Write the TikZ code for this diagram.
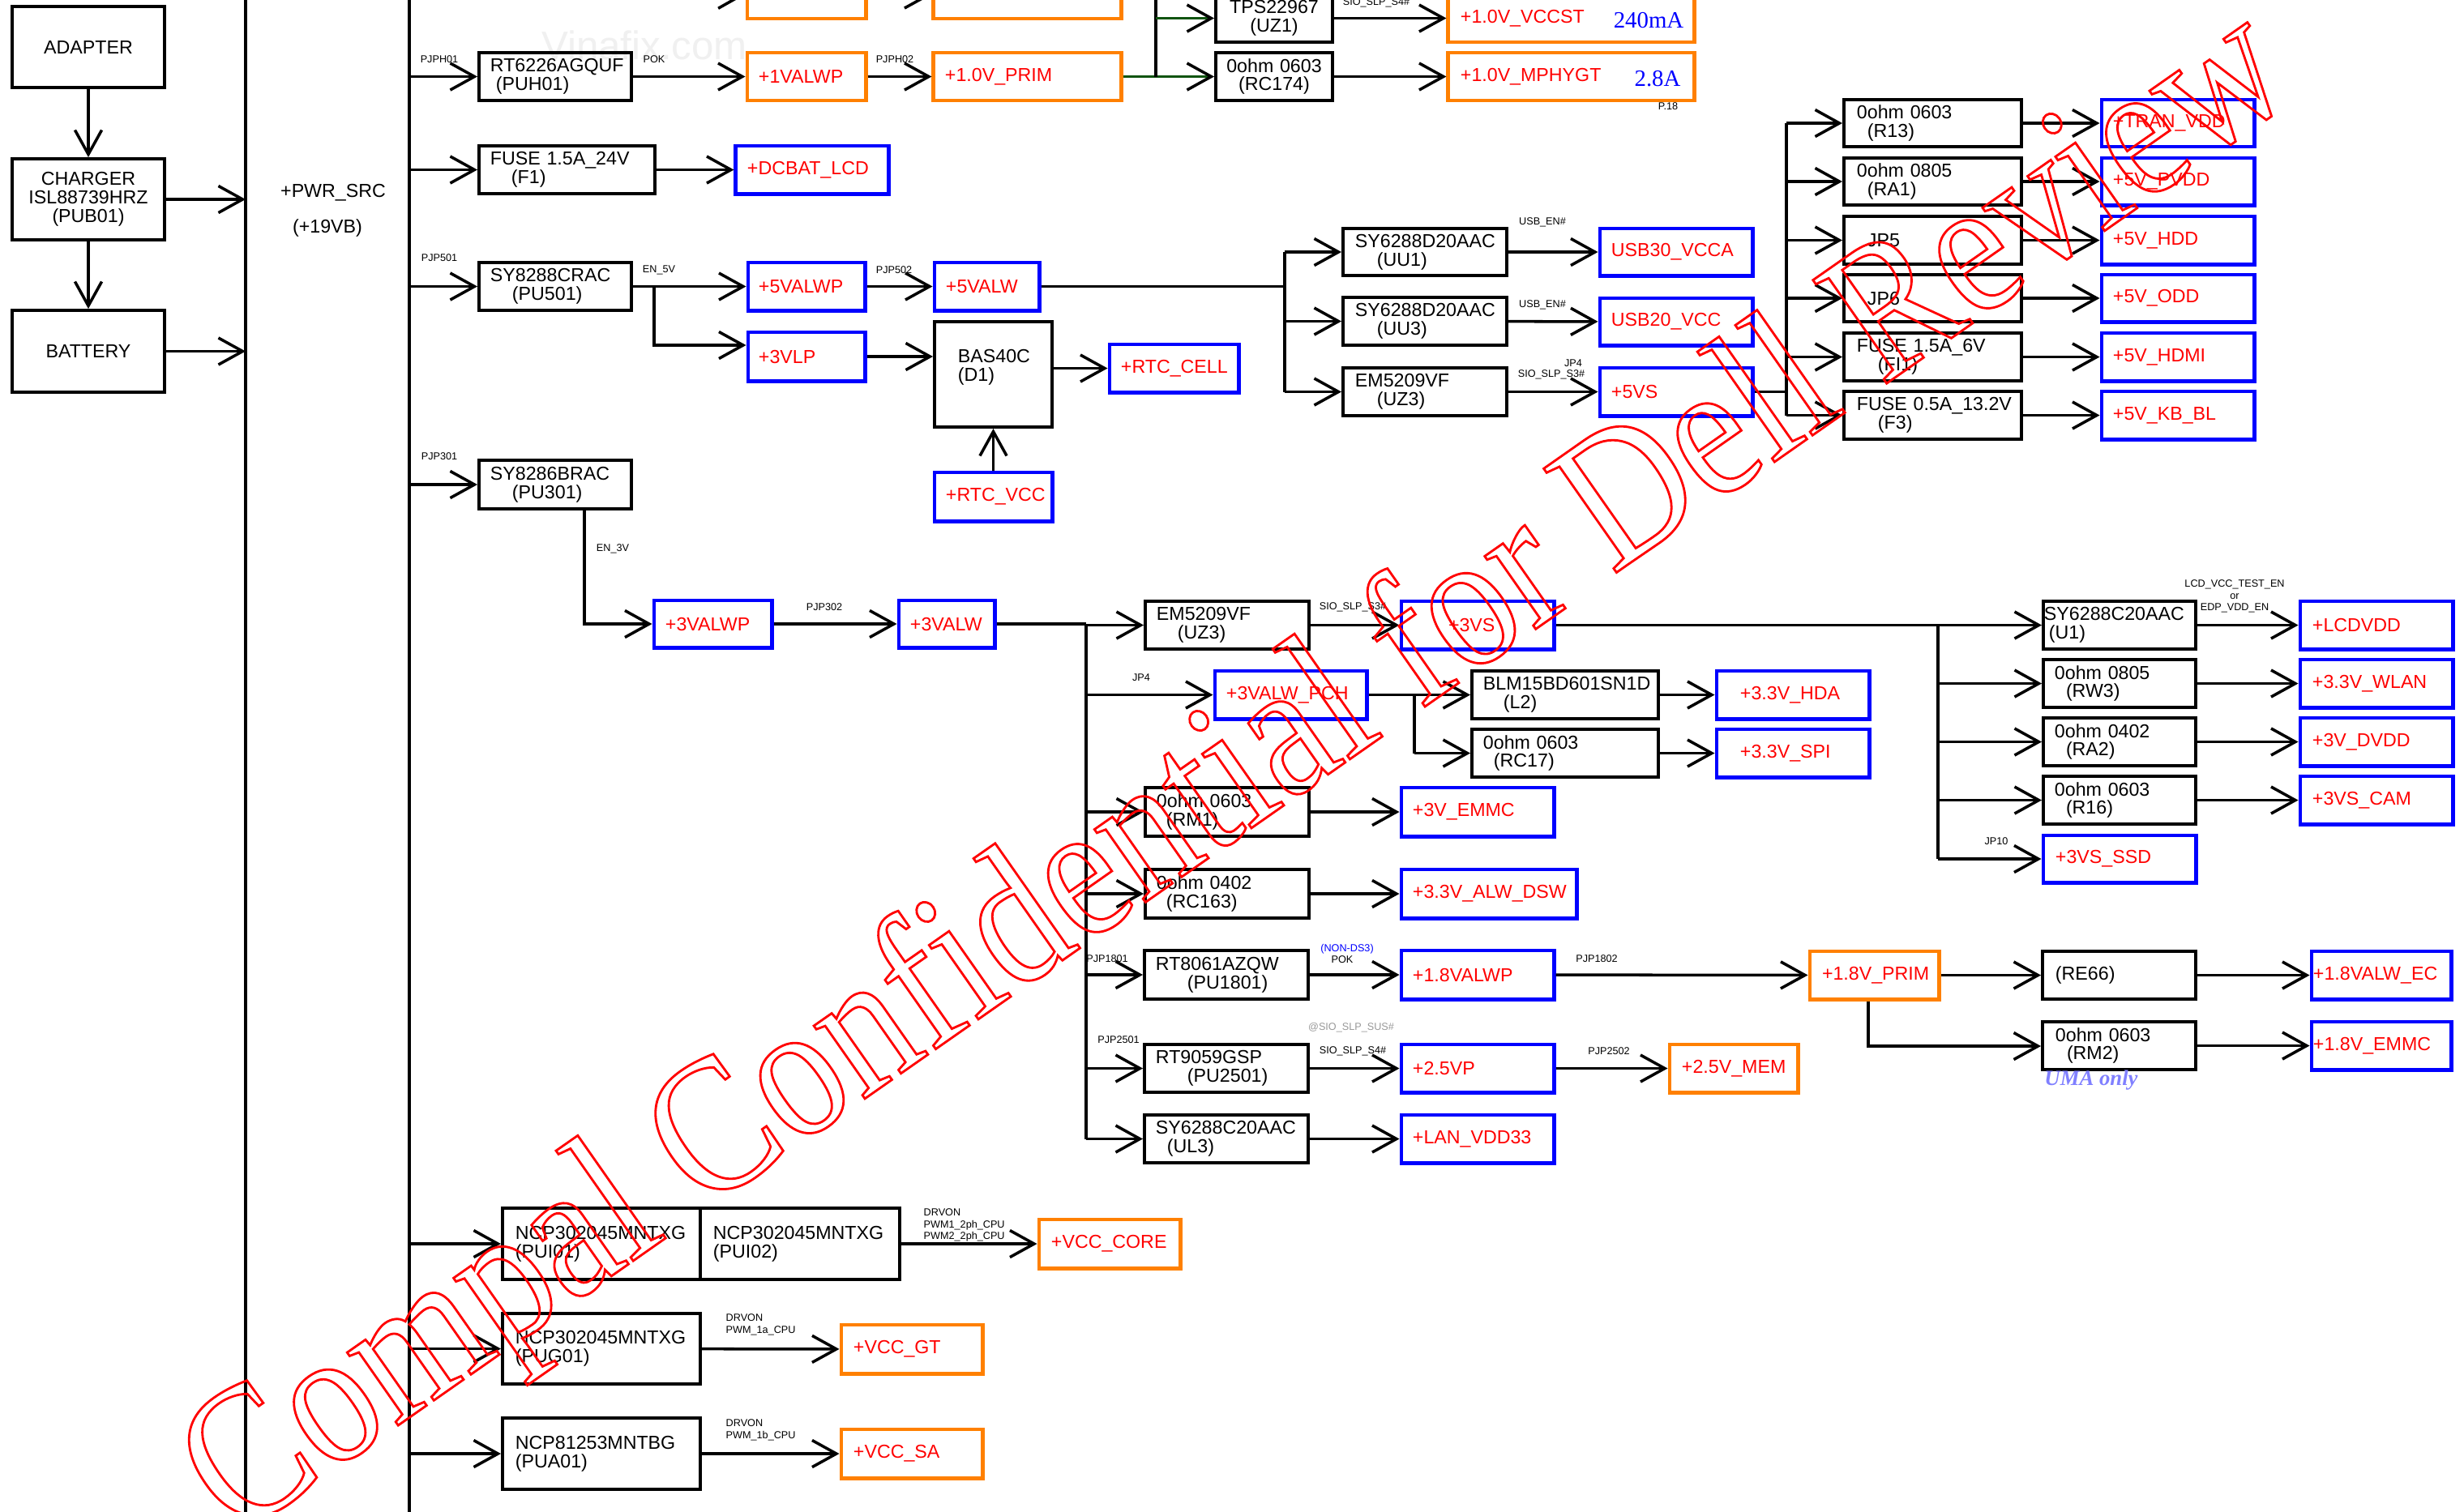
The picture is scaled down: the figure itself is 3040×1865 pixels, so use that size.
\documentclass[tikz,border=0pt]{standalone}
\usepackage{fontspec}
\setmainfont{Liberation Sans}
\newfontfamily\serifrm{Liberation Serif}
\newfontfamily\wmfont{Liberation Serif}[FakeStretch=0.86]
\usetikzlibrary{arrows.meta}
\definecolor{orng}{RGB}{255,128,0}
\definecolor{dgreen}{RGB}{16,84,16}
\definecolor{uma}{RGB}{128,128,255}
\newlength\pu \setlength\pu{0.2845276pt}
\newcommand\bfs{\fontsize{6.6}{6.5}\selectfont}
\newcommand\sfs{\fontsize{3.6}{4.1}\selectfont}
\newcommand\ind[1]{\hspace*{#1\pu}}
\newcommand\outl[1]{\special{pdf:literal direct 1 Tr 0.8 w}#1\special{pdf:literal direct 0 Tr}}
\newcommand\bx[8]{%
  \pgfmathsetlengthmacro\bw{(#4-#2)*\pu}%
  \pgfmathsetlengthmacro\bh{(#5-#3)*\pu}%
  \pgfmathsetlengthmacro\tw{(#4-#2-2*#7)*\pu}%
  \node[#6, minimum width=\bw, minimum height=\bh, text width=\tw] (#1) at ({(#2+#4)/2},{(#3+#5)/2}) {#8};}
\begin{document}
\begin{tikzpicture}[x=0.01cm,y=-0.01cm,
  kbox/.style={draw=black,line width=1.1pt,inner sep=0pt,align=left,font=\bfs},
  kboxc/.style={kbox,align=center},
  bbox/.style={draw=blue,line width=1.4pt,inner sep=0pt,align=left,font=\bfs,text=red},
  obox/.style={bbox,draw=orng},
  conn/.style={line width=1pt,-{Straight Barb[length=8.5pt,width=9.4pt]}},
  gconn/.style={line width=1pt,draw=dgreen,-{Straight Barb[length=8.5pt,width=9.4pt,color=black]}},
  wire/.style={line width=1pt},
  lbl/.style={font=\sfs,inner sep=0pt},
]
\useasboundingbox (0,0) rectangle (3040,1865);
\clip (0,0) rectangle (3040,1865);
\fill[white] (0,0) rectangle (3040,1865);
\node[font=\fontsize{14}{14}\selectfont,text=black!6,inner sep=0pt] (vina) at (795,56) {Vinafix.com};

% ---- left part
\bx{adapter}{15}{8}{203}{108}{kboxc}{4}{ADAPTER}
\bx{charger}{15}{196}{203}{296}{kboxc}{4}{CHARGER\\ISL88739HRZ\\(PUB01)}
\bx{battery}{15}{383}{203}{484}{kboxc}{4}{BATTERY}
\coordinate (busLt) at (303,-20); \coordinate (busLb) at (303,1885);
\coordinate (busRt) at (505,-20); \coordinate (busRb) at (505,1885);
\draw[wire] (busLt) -- (busLb);
\draw[wire] (busRt) -- (busRb);
\node[font=\bfs,inner sep=0pt] (pwr) at (411,238) {+PWR\_SRC};
\node[font=\bfs,inner sep=0pt] (pwrv) at (404,281) {(+19VB)};
\draw[conn] (adapter) -- (charger);
\draw[conn] (charger) -- (battery);
\draw[conn] (charger.east) -- (charger.east -| busLt);
\draw[conn] (battery.east) -- (battery.east -| busLt);

% ---- top rows
\bx{puh01}{591}{65}{779}{124}{kbox}{14}{RT6226AGQUF\\\ind{7}(PUH01)}
\bx{f1}{591}{180}{808}{239}{kbox}{14}{FUSE~1.5A\_24V\\\ind{26}(F1)}
\bx{pu501}{591}{324}{779}{383}{kbox}{14}{SY8288CRAC\\\ind{27}(PU501)}
\bx{pu301}{591}{568}{779}{628}{kbox}{14}{SY8286BRAC\\\ind{27}(PU301)}
\bx{tb1}{922}{-36}{1068}{23}{obox}{14}{}
\bx{tb2}{1152}{-36}{1383}{23}{obox}{14}{}
\bx{v1valwp}{922}{65}{1068}{124}{obox}{14}{+1VALWP}
\bx{prim10}{1152}{65}{1383}{124}{obox}{14}{+1.0V\_PRIM}
\bx{uz1}{1500}{-7}{1644}{52}{kboxc}{4}{TPS22967\\(UZ1)}
\bx{rc174}{1500}{65}{1644}{124}{kboxc}{4}{0ohm~0603\\(RC174)}
\bx{vccst}{1787}{-7}{2090}{52}{obox}{15}{+1.0V\_VCCST}
\bx{mphygt}{1787}{65}{2090}{124}{obox}{15}{+1.0V\_MPHYGT}
\node[font=\serifrm\fontsize{8.2}{8.2}\selectfont,text=blue,inner sep=0pt] (ma240) at (2034,25) {240mA};
\node[font=\serifrm\fontsize{8.2}{8.2}\selectfont,text=blue,inner sep=0pt] (a28) at (2045,97) {2.8A};
\node[lbl] (p18) at (2058,131) {P.18};
\bx{dcbat}{908}{180}{1096}{239}{bbox}{14}{+DCBAT\_LCD}

\coordinate (tsrc) at (860,-6);
\draw[conn] (tsrc) -- (tb1.west);
\draw[conn] (tb1.east) -- (tb2.west);
\draw[conn] (puh01.west -| busRt) -- (puh01.west);
\draw[conn] (f1.west -| busRt) -- (f1.west);
\draw[conn] (pu501.west -| busRt) -- (pu501.west);
\draw[conn] (pu301.west -| busRt) -- (pu301.west);
\draw[conn] (puh01) -- (v1valwp);
\draw[conn] (v1valwp) -- (prim10);
\draw[conn] (f1) -- (dcbat);
\coordinate (jgt) at (1426,-20);
\draw[gconn] (prim10.east) -- (rc174.west);
\draw[wire] (jgt) -- (jgt |- prim10.east);
\draw[gconn] (jgt |- uz1.west) -- (uz1.west);
\draw[conn] (uz1) -- (vccst);
\draw[conn] (rc174) -- (mphygt);
\node[lbl] (lpjph01) at (542,73) {PJPH01};
\node[lbl] (lpok) at (807,73) {POK};
\node[lbl] (lpjph02) at (1104,73) {PJPH02};
\node[lbl] (ls4a) at (1698,3) {SIO\_SLP\_S4\#};

% ---- 5V section
\bx{v5valwp}{923}{324}{1067}{383}{bbox}{13}{+5VALWP}
\bx{v5valw}{1153}{324}{1282}{383}{bbox}{14}{+5VALW}
\bx{v3vlp}{923}{410}{1067}{470}{bbox}{13}{+3VLP}
\bx{bas}{1153}{397}{1298}{527}{kbox}{29}{BAS40C\\(D1)\\\mbox{}}
\bx{rtccell}{1369}{425}{1528}{484}{bbox}{14}{+RTC\_CELL}
\bx{rtcvcc}{1153}{583}{1298}{643}{bbox}{14}{+RTC\_VCC}
\coordinate (j501) at (807,426);
\draw[conn] (pu501) -- (v5valwp);
\draw[conn] (j501 |- pu501.east) -- (j501) -- (v3vlp.west |- j501);
\draw[conn] (v5valwp) -- (v5valw);
\draw[conn] (v3vlp.east) -- (v3vlp.east -| bas.west);
\draw[conn] (rtccell.west -| bas.east) -- (rtccell.west);
\draw[conn] (rtcvcc) -- (bas);
\node[lbl] (lpjp501) at (542,318) {PJP501};
\node[lbl] (len5) at (813,333) {EN\_5V};
\node[lbl] (lpjp502) at (1103,333) {PJP502};

\bx{uu1}{1657}{282}{1859}{340}{kbox}{15}{SY6288D20AAC\\\ind{27}(UU1)}
\bx{uu3}{1657}{367}{1859}{426}{kbox}{15}{SY6288D20AAC\\\ind{27}(UU3)}
\bx{uz3a}{1657}{454}{1859}{513}{kbox}{15}{EM5209VF\\\ind{27}(UZ3)}
\bx{usb30}{1974}{282}{2162}{340}{bbox}{14}{USB30\_VCCA}
\bx{usb20}{1974}{368}{2162}{426}{bbox}{14}{USB20\_VCC}
\bx{v5vs}{1974}{454}{2162}{513}{bbox}{14}{+5VS}
\coordinate (b5) at (1585,0);
\draw[wire] (v5valw.east) -- (v5valw.east -| b5);
\draw[wire] (uu1.west -| b5) -- (uz3a.west -| b5);
\draw[conn] (uu1.west -| b5) -- (uu1.west);
\draw[conn] (uu3.west -| b5) -- (uu3.west);
\draw[conn] (uz3a.west -| b5) -- (uz3a.west);
\draw[conn] (uu1) -- (usb30);
\draw[conn] (uu3) -- (usb20);
\draw[conn] (uz3a) -- (v5vs);
\node[lbl] (lusb1) at (1903,274) {USB\_EN\#};
\node[lbl] (lusb2) at (1903,376) {USB\_EN\#};
\node[lbl] (ljp4a) at (1941,448) {JP4};
\node[lbl] (ls3a) at (1914,462) {SIO\_SLP\_S3\#};

\bx{r13}{2275}{123}{2494}{181}{kbox}{16}{0ohm~0603\\\ind{13}(R13)}
\bx{ra1}{2275}{195}{2494}{253}{kbox}{16}{0ohm~0805\\\ind{13}(RA1)}
\bx{jp5}{2275}{267}{2494}{326}{kbox}{29}{JP5}
\bx{jp6}{2275}{339}{2494}{397}{kbox}{29}{JP6}
\bx{fi1}{2275}{411}{2494}{470}{kbox}{16}{FUSE~1.5A\_6V\\\ind{26}(FI1)}
\bx{f3}{2275}{483}{2494}{542}{kbox}{16}{FUSE~0.5A\_13.2V\\\ind{26}(F3)}
\bx{tran}{2593}{123}{2781}{181}{bbox}{14}{+TRAN\_VDD}
\bx{pvdd}{2593}{195}{2781}{253}{bbox}{14}{+5V\_PVDD}
\bx{hdd}{2593}{267}{2781}{326}{bbox}{14}{+5V\_HDD}
\bx{odd}{2593}{339}{2781}{397}{bbox}{14}{+5V\_ODD}
\bx{hdmi}{2593}{411}{2781}{470}{bbox}{14}{+5V\_HDMI}
\bx{kbbl}{2593}{483}{2781}{542}{bbox}{14}{+5V\_KB\_BL}
\coordinate (b5s) at (2204,0);
\draw[wire] (v5vs.east) -- (v5vs.east -| b5s);
\draw[wire] (r13.west -| b5s) -- (f3.west -| b5s);
\foreach \n/\m in {r13/tran,ra1/pvdd,jp5/hdd,jp6/odd,fi1/hdmi,f3/kbbl}{
  \draw[conn] (\n.west -| b5s) -- (\n.west);
  \draw[conn] (\n) -- (\m);
}

% ---- 3V section
\bx{v3valwp}{807}{741}{952}{799}{bbox}{14}{+3VALWP}
\bx{v3valw}{1109}{741}{1227}{799}{bbox}{14}{+3VALW}
\coordinate (j301) at (721,770);
\draw[conn] (j301 |- pu301.south) -- (j301) -- (v3valwp.west);
\draw[conn] (v3valwp) -- (v3valw);
\node[lbl] (lpjp301) at (542,563) {PJP301};
\node[lbl] (len3) at (756,677) {EN\_3V};
\node[lbl] (lpjp302) at (1017,749) {PJP302};

\bx{uz3b}{1413}{742}{1615}{801}{kbox}{14}{EM5209VF\\\ind{26}(UZ3)}
\bx{v3vs}{1729}{742}{1917}{801}{bbox}{58}{+3VS}
\bx{pch}{1499}{828}{1686}{887}{bbox}{14}{+3VALW\_PCH}
\bx{l2}{1816}{828}{2046}{887}{kbox}{14}{BLM15BD601SN1D\\\ind{25}(L2)}
\bx{rc17}{1816}{900}{2046}{959}{kbox}{14}{0ohm~0603\\\ind{13}(RC17)}
\bx{hda}{2118}{828}{2306}{887}{bbox}{29}{+3.3V\_HDA}
\bx{spi}{2118}{900}{2306}{959}{bbox}{29}{+3.3V\_SPI}
\bx{rm1}{1413}{972}{1615}{1032}{kbox}{14}{0ohm~0603\\\ind{12}(RM1)}
\bx{emmc3}{1729}{972}{1917}{1032}{bbox}{14}{+3V\_EMMC}
\bx{rc163}{1413}{1073}{1615}{1133}{kbox}{14}{0ohm~0402\\\ind{12}(RC163)}
\bx{dsw}{1729}{1073}{1945}{1133}{bbox}{14}{+3.3V\_ALW\_DSW}
\bx{pu1801}{1412}{1173}{1614}{1233}{kbox}{14}{RT8061AZQW\\\ind{39}(PU1801)}
\bx{v18valwp}{1729}{1173}{1917}{1233}{bbox}{14}{+1.8VALWP}
\bx{pu2501}{1412}{1289}{1614}{1348}{kbox}{14}{RT9059GSP\\\ind{39}(PU2501)}
\bx{v25vp}{1729}{1289}{1917}{1348}{bbox}{14}{+2.5VP}
\bx{mem25}{2060}{1289}{2218}{1348}{obox}{15}{+2.5V\_MEM}
\bx{ul3}{1412}{1376}{1614}{1435}{kbox}{14}{SY6288C20AAC\\\ind{14}(UL3)}
\bx{lan}{1729}{1376}{1917}{1435}{bbox}{14}{+LAN\_VDD33}
\coordinate (b3) at (1340,0);
\draw[wire] (v3valw.east) -- (v3valw.east -| b3);
\draw[wire] (uz3b.west -| b3) -- (ul3.west -| b3);
\foreach \n in {uz3b,pch,rm1,rc163,pu1801,pu2501,ul3}{
  \draw[conn] (\n.west -| b3) -- (\n.west);
}
\draw[conn] (uz3b) -- (v3vs);
\coordinate (bp) at (1745,0);
\draw[wire] (pch.east) -- (pch.east -| bp) -- (rc17.west -| bp);
\draw[conn] (l2.west -| bp) -- (l2.west);
\draw[conn] (rc17.west -| bp) -- (rc17.west);
\draw[conn] (l2) -- (hda);
\draw[conn] (rc17) -- (spi);
\draw[conn] (rm1) -- (emmc3);
\draw[conn] (rc163) -- (dsw);
\draw[conn] (pu1801) -- (v18valwp);
\draw[conn] (pu2501) -- (v25vp);
\draw[conn] (v25vp) -- (mem25);
\draw[conn] (ul3) -- (lan);
\node[lbl] (ls3b) at (1669,749) {SIO\_SLP\_S3\#};
\node[lbl] (ljp4b) at (1408,836) {JP4};
\node[lbl] (lpjp1801) at (1366,1183) {PJP1801};
\node[lbl,text=blue] (lnonds3) at (1662,1171) {(NON-DS3)};
\node[lbl] (lpok2) at (1656,1184) {POK};
\node[lbl] (lpjp1802) at (1970,1183) {PJP1802};
\node[lbl,text=black!40] (lsus) at (1667,1268) {@SIO\_SLP\_SUS\#};
\node[lbl] (lpjp2501) at (1380,1283) {PJP2501};
\node[lbl] (ls4b) at (1669,1297) {SIO\_SLP\_S4\#};
\node[lbl] (lpjp2502) at (1985,1297) {PJP2502};

% ---- 3VS right
\bx{u1}{2521}{742}{2709}{801}{kbox}{1}{SY6288C20AAC\\\ind{6}(U1)}
\bx{rw3}{2521}{814}{2709}{873}{kbox}{14}{0ohm~0805\\\ind{14}(RW3)}
\bx{ra2}{2521}{886}{2709}{945}{kbox}{14}{0ohm~0402\\\ind{14}(RA2)}
\bx{r16}{2521}{958}{2709}{1017}{kbox}{14}{0ohm~0603\\\ind{14}(R16)}
\bx{ssd}{2521}{1031}{2709}{1089}{bbox}{15}{+3VS\_SSD}
\bx{lcdvdd}{2838}{742}{3026}{801}{bbox}{15}{+LCDVDD}
\bx{wlan}{2838}{814}{3026}{873}{bbox}{15}{+3.3V\_WLAN}
\bx{dvdd}{2838}{886}{3026}{945}{bbox}{15}{+3V\_DVDD}
\bx{cam}{2838}{958}{3026}{1017}{bbox}{15}{+3VS\_CAM}
\coordinate (b3s) at (2391,0);
\draw[wire] (v3vs.east) -- (v3vs.east -| b3s);
\draw[wire] (u1.west -| b3s) -- (ssd.west -| b3s);
\foreach \n in {u1,rw3,ra2,r16,ssd}{
  \draw[conn] (\n.west -| b3s) -- (\n.west);
}
\draw[conn] (u1) -- (lcdvdd);
\draw[conn] (rw3) -- (wlan);
\draw[conn] (ra2) -- (dvdd);
\draw[conn] (r16) -- (cam);
\node[lbl,align=center] (llcd) at (2757,736) {LCD\_VCC\_TEST\_EN\\or\\EDP\_VDD\_EN};
\node[lbl] (ljp10) at (2463,1038) {JP10};

% ---- 1.8V right
\bx{prim18}{2233}{1174}{2392}{1233}{obox}{15}{+1.8V\_PRIM}
\bx{re66}{2520}{1174}{2709}{1233}{kbox}{16}{(RE66)}
\bx{ec18}{2852}{1174}{3024}{1233}{bbox}{2}{+1.8VALW\_EC}
\bx{rm2}{2520}{1261}{2709}{1320}{kbox}{16}{0ohm~0603\\\ind{14}(RM2)}
\bx{emmc18}{2852}{1261}{3024}{1320}{bbox}{2}{+1.8V\_EMMC}
\draw[conn] (v18valwp) -- (prim18);
\draw[conn] (prim18) -- (re66);
\coordinate (j18) at (2305,1291);
\draw[conn] (j18 |- prim18.south) -- (j18) -- (rm2.west |- j18);
\draw[conn] (re66) -- (ec18);
\draw[conn] (rm2) -- (emmc18);
\node[font=\serifrm\bfseries\itshape\fontsize{7.6}{7.6}\selectfont,text=uma,inner sep=0pt] (luma) at (2580,1333) {UMA only};

% ---- CPU rails
\bx{pui01}{620}{1491}{864}{1579}{kbox}{16}{NCP302045MNTXG\\(PUI01)}
\bx{pui02}{864}{1491}{1110}{1579}{kbox}{16}{NCP302045MNTXG\\(PUI02)}
\bx{pug01}{620}{1621}{864}{1708}{kbox}{16}{NCP302045MNTXG\\(PUG01)}
\bx{pua01}{620}{1750}{864}{1838}{kbox}{16}{NCP81253MNTBG\\(PUA01)}
\bx{vcccore}{1282}{1505}{1456}{1565}{obox}{15}{+VCC\_CORE}
\bx{vccgt}{1038}{1635}{1212}{1695}{obox}{15}{+VCC\_GT}
\bx{vccsa}{1038}{1764}{1212}{1824}{obox}{15}{+VCC\_SA}
\draw[conn] (pui01.west -| busRt) -- (pui01.west);
\draw[conn] (pug01.west -| busRt) -- (pug01.west);
\draw[conn] (pua01.west -| busRt) -- (pua01.west);
\draw[conn] (pui02) -- (vcccore);
\draw[conn] (pug01) -- (vccgt);
\draw[conn] (pua01) -- (vccsa);
\node[lbl,align=left,anchor=west] (ldrv1) at (1139,1512) {DRVON\\PWM1\_2ph\_CPU\\PWM2\_2ph\_CPU};
\node[lbl,align=left,anchor=west] (ldrv2) at (895,1635) {DRVON\\PWM\_1a\_CPU};
\node[lbl,align=left,anchor=west] (ldrv3) at (895,1765) {DRVON\\PWM\_1b\_CPU};

% ---- watermark
\node[rotate=35,text=red,inner sep=0pt,font=\wmfont\fontsize{68}{68}\selectfont] (wm) at (1530,960) {\outl{Compal Confidential for Dell Review}};
\end{tikzpicture}
\end{document}
